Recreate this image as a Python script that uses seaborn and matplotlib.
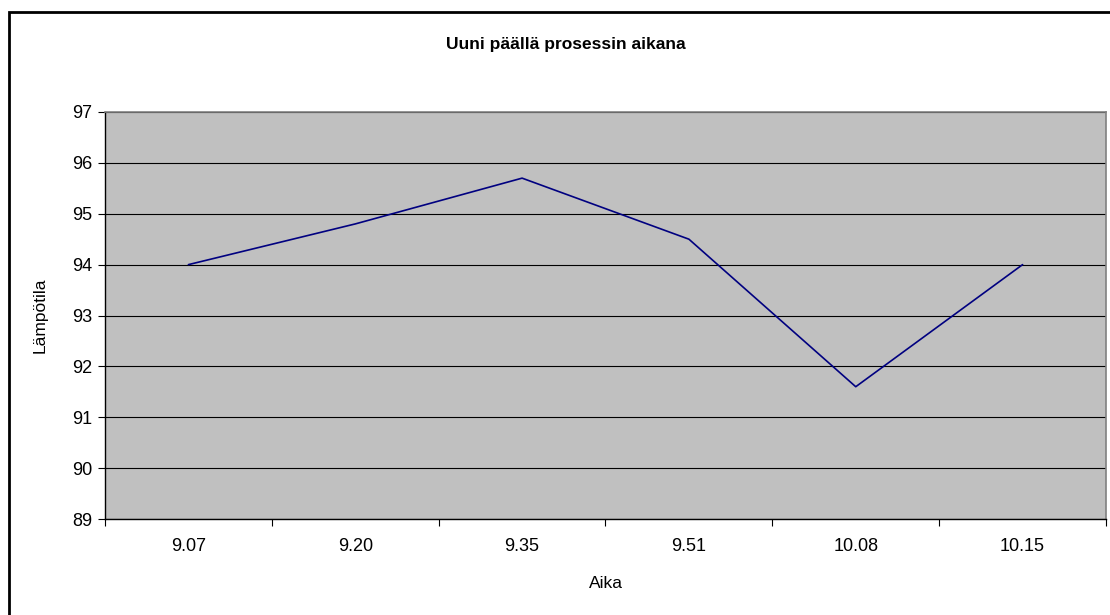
import pandas as pd
import numpy as np
import matplotlib.pyplot as plt
import seaborn as sns
from matplotlib.patches import Rectangle

# data
aika = ['9.07', '9.20', '9.35', '9.51', '10.08', '10.15']
lampotila = [94.0, 94.8, 95.7, 94.5, 91.6, 94.0]

df = pd.DataFrame({'Aika': aika, 'Lämpötila': lampotila})

sns.set_style('white')
plt.rcParams['font.family'] = ['Liberation Sans', 'DejaVu Sans']
plt.rcParams['text.color'] = 'black'
plt.rcParams['axes.labelcolor'] = 'black'
plt.rcParams['xtick.color'] = 'black'
plt.rcParams['ytick.color'] = 'black'

fig = plt.figure(figsize=(11.1, 6.15), dpi=100)
ax = fig.add_axes([105 / 1110, 1 - 519 / 615, 1001 / 1110, 407 / 615])
ax.set_facecolor('#C0C0C0')

sns.lineplot(data=df, x='Aika', y='Lämpötila', sort=False, color='#000080',
             linewidth=1.2, ax=ax)

n = len(aika)
ax.set_xlim(-0.5, n - 0.5)
ax.set_ylim(89, 97)
ax.set_yticks(np.arange(89, 98, 1))
ax.yaxis.grid(True, color='black', linewidth=0.8)
ax.set_axisbelow(True)

# category labels between boundary ticks
ax.set_xticks(np.arange(-0.5, n, 1))
ax.set_xticklabels([])
ax.set_xticks(np.arange(n), minor=True)
ax.set_xticklabels(aika, minor=True)
ax.tick_params(axis='x', which='major', direction='out', length=5, width=0.8, color='black', bottom=True)
ax.tick_params(axis='x', which='minor', length=0, pad=14, labelsize=13)
ax.tick_params(axis='y', direction='out', length=5, width=0.8, color='black', left=True, labelsize=13, pad=4)

for side in ['left', 'bottom']:
    ax.spines[side].set_color('black')
    ax.spines[side].set_linewidth(1.0)
for side in ['top', 'right']:
    ax.spines[side].set_color('#808080')
    ax.spines[side].set_linewidth(1.2)

ax.set_xlabel('Aika', fontsize=12.5, labelpad=15)
ax.set_ylabel('Lämpötila', fontsize=12.5, labelpad=18)

fig.text(566 / 1110, 1 - 44 / 615, 'Uuni päällä prosessin aikana', ha='center', va='center',
         fontsize=12.5, fontweight='bold')

# outer chart frame
fig.patches.append(Rectangle((8.5 / 1110, -0.1), 1.2, 1.1 - 12.5 / 615, transform=fig.transFigure,
                             fill=False, edgecolor='black', linewidth=2))

fig.savefig('out.png', dpi=100)
